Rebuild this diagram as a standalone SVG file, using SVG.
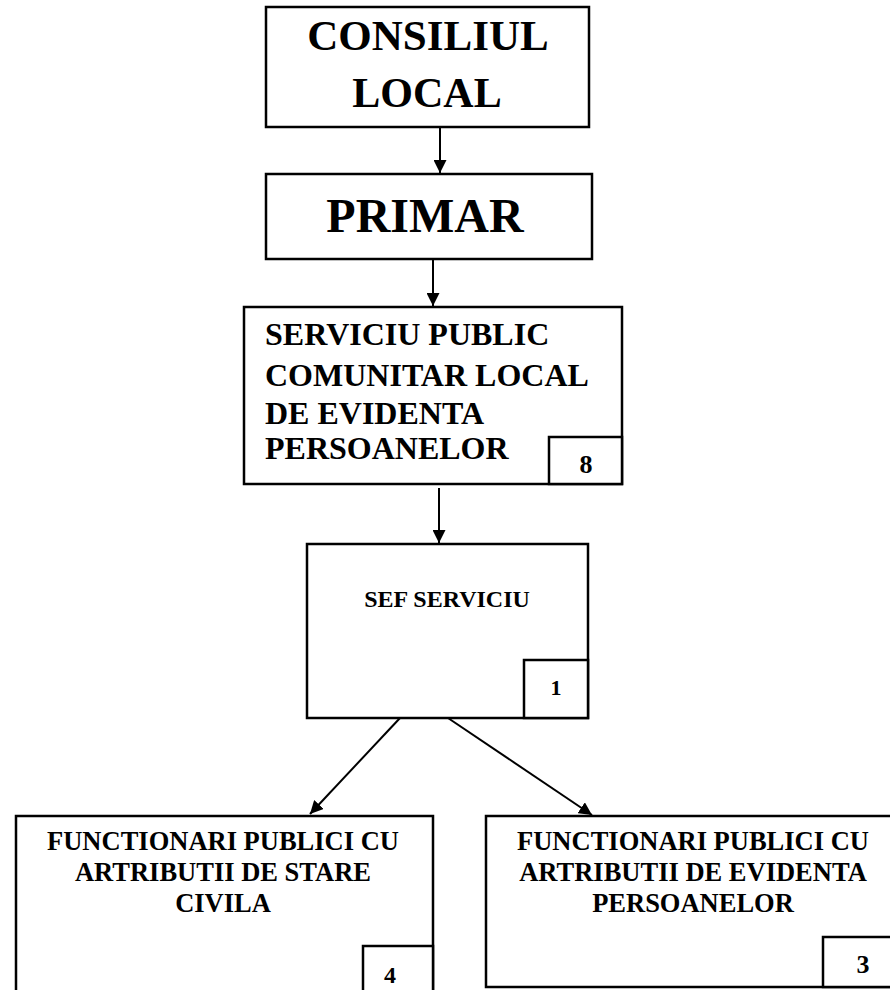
<svg xmlns="http://www.w3.org/2000/svg" width="890" height="990" viewBox="0 0 890 990">
<style>
.box{fill:#fff;stroke:#000;stroke-width:2.5}
.t{font-family:"Liberation Serif","Times New Roman",serif;font-weight:bold;fill:#000}
.c{text-anchor:middle}
.ln{stroke:#000;stroke-width:2;fill:none}
</style>
<defs>
<marker id="ah" viewBox="0 0 12 12" refX="12" refY="6" markerWidth="13" markerHeight="13" markerUnits="userSpaceOnUse" orient="auto">
<path d="M0,0 L12,6 L0,12 Z" fill="#000"/>
</marker>
</defs>
<rect width="890" height="990" fill="#fff"/>
<g id="consiliul">
<rect class="box" x="266" y="7" width="323" height="120"/>
<text class="t c" x="428" y="50" font-size="43">CONSILIUL</text>
<text class="t c" x="427" y="107" font-size="42">LOCAL</text>
</g>
<g id="primar">
<rect class="box" x="266" y="174" width="326" height="85"/>
<text class="t c" x="425" y="232" font-size="48">PRIMAR</text>
</g>
<g id="serviciu">
<rect class="box" x="244" y="307" width="378" height="177"/>
<text class="t" x="265" y="345" font-size="32">SERVICIU PUBLIC</text>
<text class="t" x="265" y="386" font-size="32">COMUNITAR LOCAL</text>
<text class="t" x="265" y="424" font-size="32">DE EVIDENTA</text>
<text class="t" x="265" y="459" font-size="32">PERSOANELOR</text>
<rect class="box" x="549" y="437" width="73" height="47"/>
<text class="t c" x="586" y="473" font-size="26">8</text>
</g>
<g id="sef">
<rect class="box" x="307" y="544" width="281" height="174"/>
<text class="t c" x="447" y="607" font-size="24">SEF SERVICIU</text>
<rect class="box" x="524" y="660" width="64" height="58"/>
<text class="t c" x="556" y="695" font-size="22">1</text>
</g>
<g id="stare-civila">
<rect class="box" x="16" y="816" width="417" height="190"/>
<text class="t c" x="223" y="850" font-size="26.5">FUNCTIONARI PUBLICI CU</text>
<text class="t c" x="223" y="881" font-size="26.5">ARTRIBUTII DE STARE</text>
<text class="t c" x="223" y="912" font-size="26.5">CIVILA</text>
<rect class="box" x="363" y="946" width="70" height="60"/>
<text class="t c" x="390" y="983" font-size="24">4</text>
</g>
<g id="evidenta">
<rect class="box" x="486" y="816" width="420" height="171"/>
<text class="t c" x="693" y="850" font-size="26.5">FUNCTIONARI PUBLICI CU</text>
<text class="t c" x="693" y="881" font-size="26.5">ARTRIBUTII DE EVIDENTA</text>
<text class="t c" x="693" y="912" font-size="26.5">PERSOANELOR</text>
<rect class="box" x="823" y="937" width="80" height="50"/>
<text class="t c" x="863" y="973" font-size="26">3</text>
</g>
<g id="connectors">
<line class="ln" x1="440" y1="127" x2="440" y2="173" marker-end="url(#ah)"/>
<line class="ln" x1="433" y1="259" x2="433" y2="306" marker-end="url(#ah)"/>
<line class="ln" x1="439" y1="488" x2="439" y2="543" marker-end="url(#ah)"/>
<line class="ln" x1="400" y1="718" x2="310" y2="814" marker-end="url(#ah)"/>
<line class="ln" x1="448" y1="718" x2="592" y2="815" marker-end="url(#ah)"/>
</g>
</svg>
